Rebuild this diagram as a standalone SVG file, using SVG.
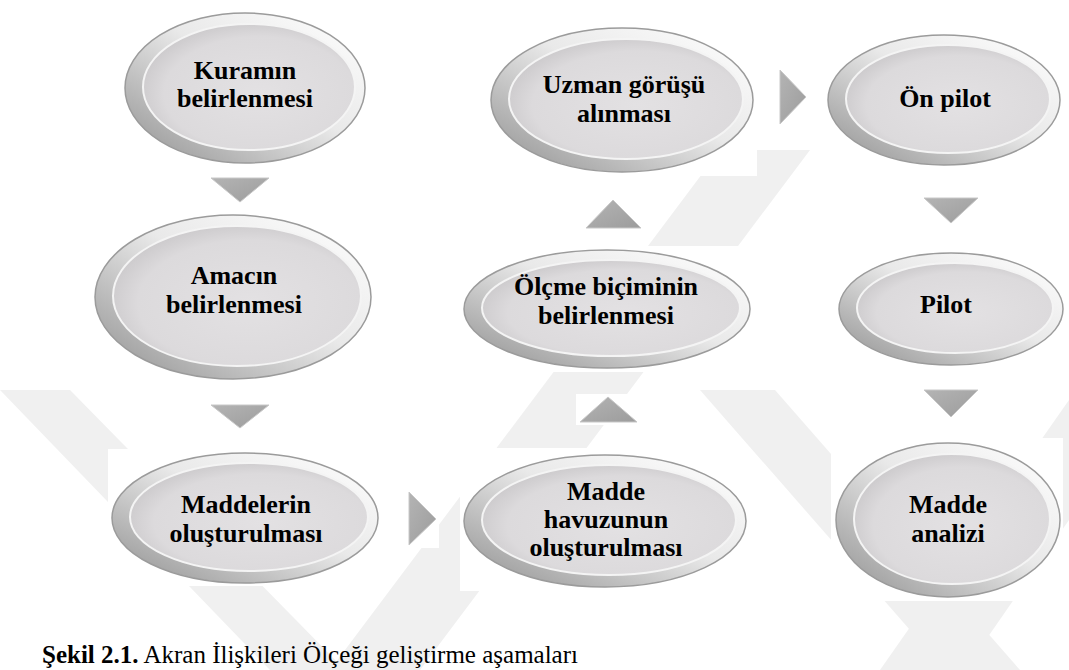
<svg xmlns="http://www.w3.org/2000/svg" width="1069" height="670" viewBox="0 0 1069 670">
  <defs>
    <linearGradient id="rim" x1="1" y1="0" x2="0" y2="1">
      <stop offset="0" stop-color="#ffffff"/>
      <stop offset="0.45" stop-color="#e9e9e9"/>
      <stop offset="1" stop-color="#8f8f8f"/>
    </linearGradient>
    <radialGradient id="face" cx="0.55" cy="0.55" r="0.6">
      <stop offset="0" stop-color="#e3e1e3"/>
      <stop offset="0.75" stop-color="#dcdadc"/>
      <stop offset="1" stop-color="#c9c7c9"/>
    </radialGradient>
    <linearGradient id="arrowG" x1="0" y1="0" x2="1" y2="1">
      <stop offset="0" stop-color="#b4b4b4"/>
      <stop offset="1" stop-color="#9c9c9c"/>
    </linearGradient>
  </defs>
  <style>
    .wm { fill: #f0f0f0; }
    .bg { fill: #ffffff; }
    .rim { fill: url(#rim); stroke: #9b9b9b; stroke-width: 1.5; }
    .face { fill: url(#face); stroke: #f4f4f4; stroke-width: 2; }
    .lbl { font-family: "Liberation Serif", "Times New Roman", serif; font-weight: bold; font-size: 26px; fill: #000; text-anchor: middle; }
    .arr { fill: url(#arrowG); stroke: #c8c8c8; stroke-width: 1; }
    .cap { font-family: "Liberation Serif", "Times New Roman", serif; font-size: 25px; fill: #000; }
  </style>

  <rect width="1069" height="670" fill="#ffffff"/>

  <!-- watermark -->
  <g id="watermark">
    <polygon class="wm" points="0,390 70,390 345,670 270,670"/>
    <polygon class="wm" points="330,670 420,670 810,150 720,150"/>
    <polygon class="wm" points="700,390 775,390 1020,670 945,670"/>
    <polygon class="wm" points="880,670 965,670 1069,520 1069,400"/>
  </g>

  <!-- connectors -->
  <g id="connectors">
    <rect class="bg" x="207" y="175" width="66" height="31"/>
    <polygon class="arr" points="211,178 269,178 240,202"/>
    <rect class="bg" x="207" y="402" width="66" height="30"/>
    <polygon class="arr" points="211,405 269,405 240,428"/>
    <rect class="bg" x="406" y="489" width="33" height="59"/>
    <polygon class="arr" points="409,492 436,519 409,545"/>
    <rect class="bg" x="576" y="394" width="65" height="31"/>
    <polygon class="arr" points="580,422 637,422 608,397"/>
    <rect class="bg" x="582" y="197" width="63" height="34"/>
    <polygon class="arr" points="586,228 641,228 613,200"/>
    <rect class="bg" x="777" y="67" width="32" height="60"/>
    <polygon class="arr" points="780,70 806,97 780,124"/>
    <rect class="bg" x="920" y="195" width="62" height="31"/>
    <polygon class="arr" points="924,198 978,198 951,223"/>
    <rect class="bg" x="920" y="387" width="62" height="33"/>
    <polygon class="arr" points="924,390 978,390 951,417"/>
  </g>

  <g id="n1">
    <rect class="bg" x="121" y="9" width="248" height="158"/>
    <ellipse class="rim" cx="245" cy="88" rx="120" ry="75"/>
    <ellipse class="face" cx="249" cy="87" rx="106" ry="63"/>
    <text class="lbl" x="245" y="79">Kuramın</text>
    <text class="lbl" x="245" y="107">belirlenmesi</text>
  </g>

  <g id="n2">
    <rect class="bg" x="91" y="211" width="285" height="171"/>
    <ellipse class="rim" cx="233" cy="297" rx="138" ry="82"/>
    <ellipse class="face" cx="237" cy="296" rx="124" ry="70"/>
    <text class="lbl" x="234" y="284">Amacın</text>
    <text class="lbl" x="234" y="313">belirlenmesi</text>
  </g>

  <g id="n3">
    <rect class="bg" x="108" y="449" width="274" height="137"/>
    <ellipse class="rim" cx="245" cy="518" rx="133" ry="65"/>
    <ellipse class="face" cx="249" cy="517" rx="119" ry="54"/>
    <text class="lbl" x="246" y="513">Maddelerin</text>
    <text class="lbl" x="246" y="542">oluşturulması</text>
  </g>

  <g id="n4">
    <rect class="bg" x="460" y="448" width="291" height="143"/>
    <ellipse class="rim" cx="605" cy="521" rx="141" ry="66"/>
    <ellipse class="face" cx="609" cy="520" rx="127" ry="55"/>
    <text class="lbl" x="606" y="500">Madde</text>
    <text class="lbl" x="606" y="528">havuzunun</text>
    <text class="lbl" x="606" y="556">oluşturulması</text>
  </g>

  <g id="n5">
    <rect class="bg" x="460" y="246" width="294" height="126"/>
    <ellipse class="rim" cx="607" cy="309" rx="143" ry="59"/>
    <ellipse class="face" cx="611" cy="308" rx="129" ry="48"/>
    <text class="lbl" x="606" y="295">Ölçme biçiminin</text>
    <text class="lbl" x="606" y="324">belirlenmesi</text>
  </g>

  <g id="n6">
    <rect class="bg" x="487" y="24" width="270" height="152"/>
    <ellipse class="rim" cx="622" cy="100" rx="131" ry="72"/>
    <ellipse class="face" cx="626" cy="99" rx="117" ry="60"/>
    <text class="lbl" x="624" y="93">Uzman görüşü</text>
    <text class="lbl" x="624" y="122">alınması</text>
  </g>

  <g id="n7">
    <rect class="bg" x="824" y="31" width="240" height="138"/>
    <ellipse class="rim" cx="944" cy="100" rx="116" ry="65"/>
    <ellipse class="face" cx="948" cy="99" rx="102" ry="54"/>
    <text class="lbl" x="945" y="107">Ön pilot</text>
  </g>

  <g id="n8">
    <rect class="bg" x="835" y="249" width="232" height="120"/>
    <ellipse class="rim" cx="951" cy="309" rx="112" ry="56"/>
    <ellipse class="face" cx="955" cy="308" rx="98" ry="45"/>
    <text class="lbl" x="946" y="313">Pilot</text>
  </g>

  <g id="n9">
    <rect class="bg" x="831" y="438" width="232" height="163"/>
    <ellipse class="rim" cx="948" cy="520" rx="112" ry="77"/>
    <ellipse class="face" cx="952" cy="519" rx="98" ry="65"/>
    <text class="lbl" x="948" y="513">Madde</text>
    <text class="lbl" x="948" y="542">analizi</text>
  </g>

  <text class="cap" x="42" y="663"><tspan font-weight="bold">Şekil 2.1.</tspan> Akran İlişkileri Ölçeği geliştirme aşamaları</text>
</svg>
